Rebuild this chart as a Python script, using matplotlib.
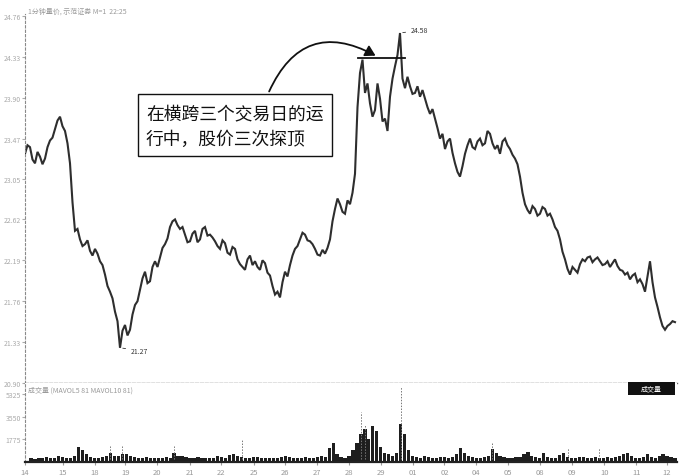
import matplotlib
matplotlib.use("Agg")
import matplotlib.pyplot as plt
from matplotlib.patches import FancyArrowPatch, Rectangle

plt.rcParams['font.family'] = ['Noto Sans CJK SC', 'DejaVu Sans']

# ---------------- data ----------------
price = [23.31, 23.40, 23.38, 23.25, 23.21, 23.33, 23.28, 23.20, 23.26, 23.38,
         23.45, 23.48, 23.57, 23.66, 23.70, 23.60, 23.55, 23.42, 23.21, 22.80,
         22.50, 22.52, 22.41, 22.34, 22.36, 22.40, 22.29, 22.24, 22.31, 22.26,
         22.18, 22.14, 22.04, 21.92, 21.86, 21.79, 21.65, 21.55, 21.27, 21.45,
         21.51, 21.40, 21.46, 21.62, 21.72, 21.76, 21.88, 22.00, 22.07, 21.95,
         21.97, 22.12, 22.18, 22.12, 22.22, 22.32, 22.36, 22.42, 22.54, 22.60,
         22.62, 22.56, 22.52, 22.54, 22.46, 22.38, 22.39, 22.47, 22.50, 22.38,
         22.41, 22.52, 22.54, 22.45, 22.46, 22.43, 22.39, 22.34, 22.31, 22.40,
         22.37, 22.27, 22.25, 22.33, 22.31, 22.20, 22.15, 22.12, 22.09, 22.20,
         22.24, 22.14, 22.18, 22.12, 22.09, 22.19, 22.16, 22.06, 22.03, 21.92,
         21.83, 21.86, 21.80, 21.96, 22.07, 22.02, 22.14, 22.24, 22.31, 22.34,
         22.41, 22.48, 22.46, 22.40, 22.39, 22.36, 22.31, 22.25, 22.24, 22.30,
         22.26, 22.32, 22.41, 22.60, 22.73, 22.84, 22.78, 22.70, 22.68, 22.82,
         22.78, 22.90, 23.10, 23.80, 24.16, 24.30, 23.95, 24.05, 23.84, 23.70,
         23.77, 24.05, 23.89, 23.65, 23.68, 23.55, 23.91, 24.10, 24.23, 24.35,
         24.58, 24.10, 24.00, 24.12, 24.02, 23.94, 23.95, 24.02, 23.91, 23.98,
         23.89, 23.80, 23.73, 23.78, 23.68, 23.58, 23.47, 23.52, 23.36, 23.44,
         23.47, 23.32, 23.21, 23.12, 23.07, 23.18, 23.31, 23.40, 23.47, 23.38,
         23.36, 23.44, 23.47, 23.40, 23.42, 23.55, 23.52, 23.42, 23.36, 23.40,
         23.31, 23.44, 23.47, 23.40, 23.36, 23.30, 23.26, 23.20, 23.07, 22.90,
         22.78, 22.72, 22.68, 22.76, 22.73, 22.66, 22.68, 22.75, 22.73, 22.66,
         22.68, 22.62, 22.54, 22.50, 22.41, 22.28, 22.20, 22.10, 22.04, 22.12,
         22.09, 22.06, 22.15, 22.20, 22.18, 22.22, 22.23, 22.17, 22.20, 22.22,
         22.18, 22.14, 22.15, 22.18, 22.12, 22.16, 22.20, 22.13, 22.09, 22.08,
         22.04, 22.06, 21.99, 22.03, 22.05, 21.96, 21.99, 21.94, 21.86, 22.02,
         22.18, 21.96, 21.80, 21.70, 21.59, 21.50, 21.46, 21.50, 21.52, 21.55,
         21.54]

volume = [300, 250, 350, 300, 400, 280, 320, 450, 380, 300,
          350, 500, 1200, 900, 600, 400, 350, 300, 380, 450,
          700, 500, 450, 600, 650, 500, 400, 350, 300, 380,
          300, 350, 280, 320, 400, 350, 700, 500, 450, 380,
          350, 300, 400, 350, 300, 280, 320, 450, 380, 350,
          550, 600, 450, 400, 350, 300, 380, 420, 350, 300,
          280, 320, 350, 400, 450, 380, 350, 300, 320, 400,
          350, 300, 400, 450, 380, 1100, 1500, 600, 400, 350,
          500, 900, 1500, 2200, 2600, 1800, 2800, 2400, 1200, 700,
          600, 500, 700, 3000, 2200, 900, 500, 400, 350, 450,
          400, 350, 300, 380, 420, 350, 400, 600, 1100, 700,
          450, 400, 350, 300, 400, 450, 1000, 700, 500, 400,
          350, 300, 380, 400, 600, 800, 500, 400, 350, 700,
          400, 350, 300, 550, 700, 400, 350, 300, 380, 400,
          350, 300, 400, 350, 300, 380, 320, 400, 450, 600,
          700, 450, 350, 300, 400, 650, 400, 350, 500, 600,
          450, 400, 350]

spike_idx = [20, 23, 36, 53, 83, 84, 93, 116, 135, 143]
spike_vol = [1250, 1250, 1250, 1800, 3900, 2900, 5900, 1600, 1100, 1100]

day_labels = ["14", "15", "18", "19", "20", "21", "22", "25", "26", "27", "28",
              "29", "01", "02", "04", "05", "08", "09", "10", "11", "12"]
day_pos = [-4, 34, 66, 97, 129, 162, 193, 226, 258, 290, 322,
           354, 386, 418, 450, 482, 514, 546, 579, 611, 642]

price_ticks = [20.90, 21.33, 21.76, 22.19, 22.62, 23.05, 23.47, 23.90, 24.33, 24.76]
vol_ticks = [1775, 3550, 5325]

high_val, low_val = 24.58, 21.27
tops_level = 24.32

# ---------------- figure ----------------
W, H = 683, 477
fig = plt.figure(figsize=(W / 100, H / 100), dpi=100)
fig.patch.set_facecolor('white')

def fx(px):
    return px / W

def fy(py):
    return 1 - py / H

ax = fig.add_axes([fx(25), fy(384), fx(677) - fx(25), fy(15) - fy(384)])
axv = fig.add_axes([fx(25), fy(463), fx(677) - fx(25), fy(384) - fy(463)])

gray = '#8a8a8a'
line_c = '#2e2e2e'

px_x = [2.5 * i for i in range(len(price))]
ax.plot(px_x, price, color=line_c, lw=1.5, solid_joinstyle='miter')
ax.set_xlim(0, 652)
ax.set_ylim(20.90, 24.78)

for a in (ax, axv):
    for s in ('top', 'right'):
        a.spines[s].set_visible(False)
    a.spines['left'].set_linestyle((0, (2, 2)))
    a.spines['left'].set_color(gray)
    a.spines['left'].set_linewidth(0.8)

ax.spines['bottom'].set_linestyle((0, (2, 1.5)))
ax.spines['bottom'].set_color('#666666')
ax.spines['bottom'].set_linewidth(1.0)

ax.set_yticks(price_ticks)
ax.set_yticklabels([f"{v:.2f}" for v in price_ticks])
ax.tick_params(axis='y', labelsize=5, colors='#aaaaaa', length=2, pad=1)
ax.set_xticks([])

# volume
vx = [2 + 4 * i for i in range(len(volume))]
axv.bar(vx, volume, width=3.2, color='#1e1e1e', linewidth=0)
axv.vlines([vx[i] for i in spike_idx], 0, spike_vol, colors='#777777',
           linestyles=(0, (1.5, 1.5)), linewidth=0.7)
axv.set_xlim(0, 652)
axv.set_ylim(0, 6180)
axv.set_yticks(vol_ticks)
axv.set_yticklabels([str(v) for v in vol_ticks])
axv.tick_params(axis='y', labelsize=5, colors='#aaaaaa', length=2, pad=1)
axv.spines['bottom'].set_color('#222222')
axv.spines['bottom'].set_linewidth(1.6)
axv.set_xticks(day_pos)
axv.set_xticklabels(day_labels)
axv.tick_params(axis='x', labelsize=5.5, colors='#999999', length=2, pad=2)

# header texts
fig.text(fx(28), fy(12), "1分钟量价, 示范证券 M=1  22:25", fontsize=5,
         color='#999999', va='center', ha='left')
fig.text(fx(28), fy(391), "成交量 (MAVOL5 81 MAVOL10 81)", fontsize=5,
         color='#999999', va='center', ha='left')
fig.patches.append(Rectangle((fx(628), fy(396)), fx(675) - fx(628), fy(383) - fy(396),
                             transform=fig.transFigure, facecolor='#111111',
                             edgecolor='none'))
fig.text(fx(651), fy(389.5), "成交量", fontsize=5, color='white', ha='center', va='center')

# annotations high/low
ax.annotate(f"{high_val:.2f}", xy=(px_x[price.index(high_val)], high_val),
            xytext=(8, 2), textcoords='offset points', fontsize=5, color='#333333',
            va='center', arrowprops=dict(arrowstyle='-', color='#333333', lw=0.6))
ax.annotate(f"{low_val:.2f}", xy=(px_x[price.index(low_val)], low_val),
            xytext=(8, -2), textcoords='offset points', fontsize=5, color='#333333',
            va='center', arrowprops=dict(arrowstyle='-', color='#333333', lw=0.6))

# top line across three tops
ax.plot([333, 380], [tops_level, tops_level], color='#111111', lw=1.3)

# callout box
fig.patches.append(Rectangle((fx(138), fy(157)), fx(332) - fx(138), fy(95) - fy(157),
                             transform=fig.transFigure, facecolor='white',
                             edgecolor='#111111', lw=1.0, zorder=5))
fig.text(fx(146), fy(127), "在横跨三个交易日的运\n行中，股价三次探顶", fontsize=12.8,
         color='#111111', ha='left', va='center', linespacing=1.5, zorder=6)

arr = FancyArrowPatch((fx(268), fy(95)), (fx(378), fy(58)),
                      transform=fig.transFigure, connectionstyle="arc3,rad=-0.55",
                      arrowstyle='-|>,head_length=6,head_width=3.5', color='#111111',
                      lw=1.3, zorder=6)
fig.patches.append(arr)

fig.savefig('out.png', dpi=100, facecolor='white')
